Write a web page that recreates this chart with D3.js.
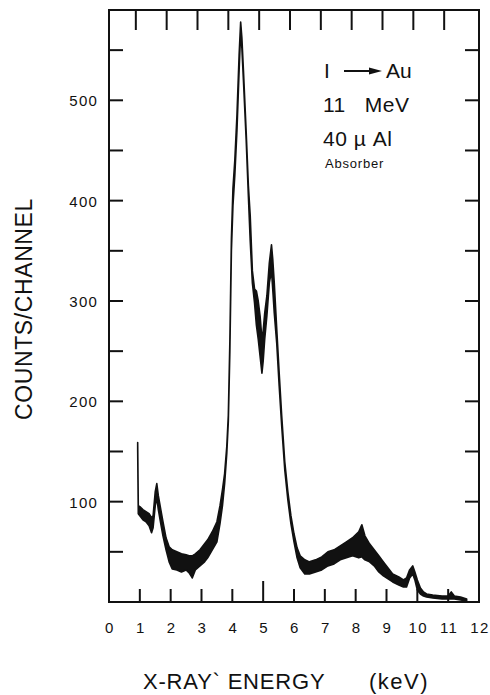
<!DOCTYPE html>
<html>
<head>
<meta charset="utf-8">
<script src="https://cdn.jsdelivr.net/npm/d3@7"></script>
<style>
  body { margin: 0; background: #fff; }
  text { font-family: "Liberation Sans", Arial, sans-serif; fill: #111; }
</style>
</head>
<body>
<script>
// spectrum: energy (keV), lower and upper edge of the noisy trace
var energy = [0.93, 0.95, 1.0, 1.1, 1.2, 1.3, 1.38, 1.43, 1.5, 1.55, 1.6, 1.68, 1.75, 1.85, 1.95,
  2.05, 2.2, 2.35, 2.5, 2.6, 2.7, 2.8, 2.95, 3.1, 3.2, 3.35, 3.5, 3.6, 3.68, 3.75, 3.82, 3.87,
  3.92, 3.97, 4.02, 4.08, 4.15, 4.22, 4.27, 4.31, 4.36, 4.45, 4.52, 4.58, 4.65, 4.72, 4.78, 4.84,
  4.9, 4.96, 5.0, 5.05, 5.12, 5.2, 5.27, 5.31, 5.36, 5.44, 5.52, 5.6, 5.7, 5.8, 5.9, 6.0, 6.1,
  6.2, 6.35, 6.5, 6.7, 6.9, 7.1, 7.3, 7.5, 7.7, 7.9, 8.1, 8.2, 8.3, 8.45, 8.6, 8.75, 8.9, 9.05,
  9.2, 9.4, 9.55, 9.65, 9.75, 9.85, 9.92, 10.0, 10.1, 10.2, 10.3, 10.5, 10.8, 11.0, 11.1, 11.2,
  11.4, 11.6];
var countsLow = [152, 88, 86, 82, 80, 76, 69, 74, 96, 104, 92, 78, 66, 52, 40,
  33, 32, 30, 32, 29, 24, 32, 36, 40, 44, 52, 60, 78, 96, 118, 148, 180,
  250, 350, 395, 425, 470, 530, 568, 552, 520, 460, 405, 360, 318, 298, 276, 262,
  245, 228, 240, 262, 285, 318, 330, 312, 288, 258, 215, 176, 132, 102, 78, 60, 44,
  34, 28, 28, 30, 32, 36, 38, 42, 44, 46, 44, 45, 42, 40, 36, 30, 26, 23,
  20, 17, 15, 15, 24, 28, 22, 12, 8, 6, 5, 4, 3, 3, 3, 3,
  2, 1];
var countsHigh = [159, 96, 95, 92, 90, 88, 84, 86, 110, 118, 106, 92, 80, 64, 55,
  52, 50, 48, 47, 46, 46, 48, 52, 58, 62, 70, 80, 96, 112, 128, 155, 186,
  260, 362, 412, 440, 485, 545, 578, 562, 530, 468, 415, 385, 330, 312, 310, 300,
  285, 262, 270, 288, 305, 338, 356, 342, 318, 272, 228, 186, 140, 110, 86, 68, 54,
  46, 42, 40, 42, 45, 50, 52, 56, 60, 64, 70, 77, 66, 58, 52, 46, 40, 34,
  28, 25, 22, 24, 32, 36, 30, 22, 14, 10, 8, 7, 6, 6, 10, 6,
  5, 3];

var xTicks = [0, 1, 2, 3, 4, 5, 6, 7, 8, 9, 10, 11, 12];
var yLabels = [100, 200, 300, 400, 500];
var yTicks = [50, 100, 150, 200, 250, 300, 350, 400, 450, 500, 550];

var spectrum = energy.map(function(e, i) {
  return { e: e, lo: countsLow[i], hi: countsHigh[i] };
});

var W = 490, H = 695;
var svg = d3.select("body").append("svg").attr("width", W).attr("height", H);

var x = d3.scaleLinear().domain([0, 12]).range([109, 479]);
var y = d3.scaleLinear().domain([0, 590]).range([602, 10]);

var ink = "#111";

// frame
svg.append("rect")
  .attr("x", x(0)).attr("y", y(590))
  .attr("width", x(12) - x(0)).attr("height", y(0) - y(590))
  .attr("fill", "none").attr("stroke", ink).attr("stroke-width", 2);

// bottom ticks (upward), longer at 5
svg.append("g").selectAll("line")
  .data(xTicks.slice(1, 12))
  .join("line")
  .attr("x1", d => x(d)).attr("x2", d => x(d))
  .attr("y1", y(0)).attr("y2", d => y(0) - (d === 5 ? 21 : 13))
  .attr("stroke", ink).attr("stroke-width", 2);

// top ticks (downward)
svg.append("g").selectAll("line")
  .data(xTicks.slice(1, 12))
  .join("line")
  .attr("x1", d => x(d) - 4).attr("x2", d => x(d) - 4)
  .attr("y1", y(590)).attr("y2", y(590) + 20)
  .attr("stroke", ink).attr("stroke-width", 2);

// left and right ticks
svg.append("g").selectAll("line")
  .data(yTicks)
  .join("line")
  .attr("x1", x(0)).attr("x2", x(0) + 14)
  .attr("y1", d => y(d)).attr("y2", d => y(d))
  .attr("stroke", ink).attr("stroke-width", 2);
svg.append("g").selectAll("line")
  .data(yTicks)
  .join("line")
  .attr("x1", x(12)).attr("x2", x(12) - 14)
  .attr("y1", d => y(d)).attr("y2", d => y(d))
  .attr("stroke", ink).attr("stroke-width", 2);

// tick labels
svg.append("g").selectAll("text")
  .data(yLabels)
  .join("text")
  .attr("x", 98).attr("y", d => y(d) + 6)
  .attr("text-anchor", "end")
  .attr("font-size", 15).attr("letter-spacing", 1.2)
  .text(d => d);

svg.append("g").selectAll("text")
  .data(xTicks)
  .join("text")
  .attr("x", d => x(d) + 1).attr("y", 633)
  .attr("text-anchor", "middle")
  .attr("font-size", 15).attr("letter-spacing", 1.5)
  .text(d => d);

// spectrum trace
var band = d3.area()
  .x(d => x(d.e))
  .y0(d => y(d.lo))
  .y1(d => y(d.hi));
svg.append("path")
  .datum(spectrum)
  .attr("d", band)
  .attr("fill", ink).attr("stroke", ink)
  .attr("stroke-width", 1.6).attr("stroke-linejoin", "round");

// axis titles
svg.append("text")
  .attr("transform", "translate(32," + 309 + ") rotate(-90)")
  .attr("text-anchor", "middle")
  .attr("font-size", 23).attr("letter-spacing", 0.6)
  .text("COUNTS/CHANNEL");

svg.append("text")
  .attr("x", 143).attr("y", 689)
  .attr("font-size", 22).attr("letter-spacing", 0.8)
  .text("X-RAY` ENERGY");
svg.append("text")
  .attr("x", 369).attr("y", 689)
  .attr("font-size", 22).attr("letter-spacing", 1.5)
  .text("(keV)");

// annotation
var note = svg.append("g");
note.append("text").attr("x", 324).attr("y", 78)
  .attr("font-size", 21).attr("font-family", "Liberation Serif, serif").text("I");
note.append("line").attr("x1", 344).attr("x2", 372).attr("y1", 71).attr("y2", 71)
  .attr("stroke", ink).attr("stroke-width", 2);
note.append("path").attr("d", "M369,67.5 L382,71 L369,74.5 Z").attr("fill", ink);
note.append("text").attr("x", 386).attr("y", 78).attr("font-size", 21).text("Au");
note.append("text").attr("x", 323).attr("y", 112).attr("font-size", 21)
  .attr("letter-spacing", 0.5).text("11\u00a0\u00a0\u00a0MeV");
note.append("text").attr("x", 323).attr("y", 146).attr("font-size", 21)
  .attr("letter-spacing", 0.5).text("40\u00a0µ\u00a0Al");
note.append("text").attr("x", 325).attr("y", 168).attr("font-size", 13)
  .attr("letter-spacing", 0.8).text("Absorber");
</script>
</body>
</html>
